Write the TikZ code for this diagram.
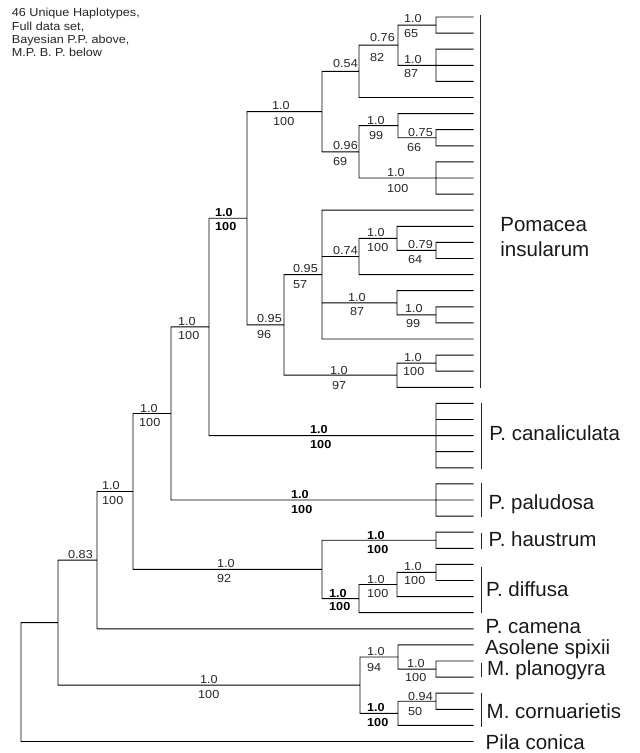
\documentclass[tikz,border=0pt]{standalone}
\usepackage{fontspec}
\setmainfont{Liberation Sans}
\newfontfamily\svfont[FakeStretch=1.09]{Liberation Sans}
\begin{document}
\begin{tikzpicture}[x=1pt,y=-1pt,
  br/.style={draw=black, line width=0.95pt},
  sv/.style={anchor=base west, inner sep=0pt, font=\svfont\fontsize{11.6}{13}\selectfont, text=black!85},
  svb/.style={sv, font=\svfont\bfseries\fontsize{11.6}{13}\selectfont, text=black},
  sp/.style={anchor=base west, inner sep=0pt, font=\fontsize{20.5}{24}\selectfont, text=black!90},
  hd/.style={anchor=base west, inner sep=0pt, font=\svfont\fontsize{11.6}{13}\selectfont, text=black!85},
  grp/.style={draw=black!85, line width=1pt}]
\useasboundingbox (0,0) rectangle (640,753);

% tips
\foreach \i in {0,...,45} \coordinate (t\i) at (473.5,{17+16.1*\i});

% internal nodes
\coordinate (nR) at (436,25.05);
\coordinate (nS) at (436,65.3);
\coordinate (nQ) at (398,45.2);
\coordinate (nP) at (359,71.3);
\coordinate (nW) at (436,137.75);
\coordinate (nU) at (398,125.7);
\coordinate (nV) at (436,178);
\coordinate (nT) at (359,151.8);
\coordinate (nF) at (322,111.6);
\coordinate (nL) at (436,250.45);
\coordinate (nK) at (397,238.4);
\coordinate (nI) at (359,256.5);
\coordinate (nM) at (436,314.85);
\coordinate (nJ) at (397,302.8);
\coordinate (nH) at (322,274.6);
\coordinate (nO) at (436,363.15);
\coordinate (nN) at (397,375.2);
\coordinate (nG) at (284,324.9);
\coordinate (nE) at (247,218.25);
\coordinate (nCan) at (436,435.6);
\coordinate (nD) at (209,326.9);
\coordinate (nPal) at (436,500);
\coordinate (nC) at (171,413.5);
\coordinate (nHau) at (436,540.25);
\coordinate (nAA) at (436,572.45);
\coordinate (nZ) at (397,584.5);
\coordinate (nY) at (359,598.6);
\coordinate (nX) at (322,569.4);
\coordinate (nB) at (133,491.5);
\coordinate (nA) at (97,560.15);
\coordinate (nDD) at (436,669.05);
\coordinate (nCC) at (398,657);
\coordinate (nFF) at (436,701.25);
\coordinate (nEE) at (398,713.3);
\coordinate (nBB) at (360,685.15);
\coordinate (nR0) at (58,622.65);
\coordinate (nRoot) at (21,682);

% branches
\draw[br]
  (nR) |- (t0)  (nR) |- (t1)
  (nS) |- (t2)  (nS) -- (t3)  (nS) |- (t4)
  (nQ) |- (nR)  (nQ) |- (nS)
  (nP) |- (nQ)  (nP) |- (t5)
  (nW) |- (t7)  (nW) |- (t8)
  (nU) |- (t6)  (nU) |- (nW)
  (nV) |- (t9)  (nV) -- (t10) (nV) |- (t11)
  (nT) |- (nU)  (nT) |- (nV)
  (nF) |- (nP)  (nF) |- (nT)
  (nL) |- (t14) (nL) |- (t15)
  (nK) |- (t13) (nK) |- (nL)
  (nI) |- (nK)  (nI) |- (t16)
  (nM) |- (t18) (nM) |- (t19)
  (nJ) |- (t17) (nJ) |- (nM)
  (nH) |- (t12) (nH) |- (nI) (nH) |- (nJ) (nH) |- (t20)
  (nO) |- (t21) (nO) |- (t22)
  (nN) |- (nO)  (nN) |- (t23)
  (nG) |- (nH)  (nG) |- (nN)
  (nE) |- (nF)  (nE) |- (nG)
  (nCan) |- (t24) (nCan) |- (t25) (nCan) -- (t26) (nCan) |- (t27) (nCan) |- (t28)
  (nD) |- (nE)  (nD) |- (nCan)
  (nPal) |- (t29) (nPal) -- (t30) (nPal) |- (t31)
  (nC) |- (nD)  (nC) |- (nPal)
  (nHau) |- (t32) (nHau) |- (t33)
  (nAA) |- (t34) (nAA) |- (t35)
  (nZ) |- (nAA) (nZ) |- (t36)
  (nY) |- (nZ)  (nY) |- (t37)
  (nX) |- (nHau) (nX) |- (nY)
  (nB) |- (nC)  (nB) |- (nX)
  (nA) |- (nB)  (nA) |- (t38)
  (nDD) |- (t40) (nDD) |- (t41)
  (nCC) |- (t39) (nCC) |- (nDD)
  (nFF) |- (t42) (nFF) |- (t43)
  (nEE) |- (nFF) (nEE) |- (t44)
  (nBB) |- (nCC) (nBB) |- (nEE)
  (nR0) |- (nA) (nR0) |- (nBB)
  (nRoot) |- (nR0) (nRoot) |- (t45);

% support values
\node[sv] (lRu) at (404,22.7) {1.0};   \node[sv] (lRd) at (404,37) {65};
\node[sv] (lQu) at (370,41.7) {0.76};  \node[sv] (lQd) at (370,61) {82};
\node[sv] (lSu) at (404,63) {1.0};     \node[sv] (lSd) at (404,77) {87};
\node[sv] (lPu) at (333,67.7) {0.54};
\node[sv] (lFu) at (272,109) {1.0};    \node[sv] (lFd) at (273,125) {100};
\node[sv] (lTu) at (333,149) {0.96};   \node[sv] (lTd) at (333,165) {69};
\node[sv] (lUu) at (367,124) {1.0};    \node[sv] (lUd) at (369,139) {99};
\node[sv] (lWu) at (408,136) {0.75};   \node[sv] (lWd) at (407,151) {66};
\node[sv] (lVu) at (387,176) {1.0};    \node[sv] (lVd) at (387,192) {100};
\node[sv] (lKu) at (367,236) {1.0};    \node[sv] (lKd) at (367,251) {100};
\node[sv] (lLu) at (408,248) {0.79};   \node[sv] (lLd) at (408,263) {64};
\node[sv] (lIu) at (333,254) {0.74};
\node[sv] (lHu) at (293,272) {0.95};   \node[sv] (lHd) at (293,288) {57};
\node[sv] (lJu) at (348,301) {1.0};    \node[sv] (lJd) at (350,315) {87};
\node[sv] (lMu) at (405,312) {1.0};    \node[sv] (lMd) at (406,327) {99};
\node[sv] (lGu) at (257,322) {0.95};   \node[sv] (lGd) at (257,338) {96};
\node[sv] (lNu) at (330,374) {1.0};    \node[sv] (lNd) at (332,389) {97};
\node[sv] (lOu) at (404,361) {1.0};    \node[sv] (lOd) at (403,375) {100};
\node[svb] (lEu) at (215,216) {1.0};   \node[svb] (lEd) at (215,230) {100};
\node[sv] (lDu) at (178,325) {1.0};    \node[sv] (lDd) at (178,339) {100};
\node[sv] (lCu) at (140,412) {1.0};    \node[sv] (lCd) at (139,426) {100};
\node[sv] (lBu) at (102,489) {1.0};    \node[sv] (lBd) at (102,504) {100};
\node[sv] (lAu) at (68,558) {0.83};
\node[sv] (lXu) at (217,567) {1.0};    \node[sv] (lXd) at (217,582) {92};
\node[svb] (lCanu) at (310,433) {1.0}; \node[svb] (lCand) at (310,448) {100};
\node[svb] (lPalu) at (291,498) {1.0}; \node[svb] (lPald) at (291,513) {100};
\node[svb] (lHauu) at (367,539) {1.0}; \node[svb] (lHaud) at (367,553) {100};
\node[sv] (lAAu) at (404,570) {1.0};   \node[sv] (lAAd) at (404,584) {100};
\node[sv] (lZu) at (367,583) {1.0};    \node[sv] (lZd) at (367,597) {100};
\node[svb] (lYu) at (329,597) {1.0};   \node[svb] (lYd) at (329,610) {100};
\node[sv] (lBBu) at (200,683) {1.0};   \node[sv] (lBBd) at (198,698) {100};
\node[sv] (lCCu) at (367,655) {1.0};   \node[sv] (lCCd) at (367,671) {94};
\node[sv] (lDDu) at (407,667) {1.0};   \node[sv] (lDDd) at (405,681) {100};
\node[svb] (lEEu) at (367,711) {1.0};  \node[svb] (lEEd) at (367,726) {100};
\node[sv] (lFFu) at (408,700) {0.94};  \node[sv] (lFFd) at (408,715) {50};

% group bars
\draw[grp] (480.5,15) -- (480.5,388);
\draw[grp] (481,403) -- (481,468.5);
\draw[grp] (481,483) -- (481,517);
\draw[grp] (481,533) -- (481,549);
\draw[grp] (481,567) -- (481,613);
\draw[grp] (481.5,663) -- (481.5,677);
\draw[grp] (481.5,693) -- (481.5,727);

% species labels
\node[sp] (sIa) at (500.2,231.7) {Pomacea};
\node[sp] (sIb) at (500.2,256.7) {insularum};
\node[sp] (sCan) at (489.2,440) {P. canaliculata};
\node[sp] (sPal) at (488.5,509.3) {P. paludosa};
\node[sp] (sHau) at (488.5,546.7) {P. haustrum};
\node[sp] (sDif) at (485.8,596.7) {P. diffusa};
\node[sp] (sCam) at (485.5,633.7) {P. camena};
\node[sp] (sAso) at (484.8,654.4) {Asolene spixii};
\node[sp] (sPla) at (486.8,675.7) {M. planogyra};
\node[sp] (sCor) at (486.5,718) {M. cornuarietis};
\node[sp] (sPil) at (485.5,749.5) {Pila conica};

% header
\node[hd] (h1) at (11.7,16.7) {46 Unique Haplotypes,};
\node[hd] (h2) at (11.7,30) {Full data set,};
\node[hd] (h3) at (11.7,43.3) {Bayesian P.P. above,};
\node[hd] (h4) at (11.7,56.7) {M.P. B. P. below};
\end{tikzpicture}
\end{document}
